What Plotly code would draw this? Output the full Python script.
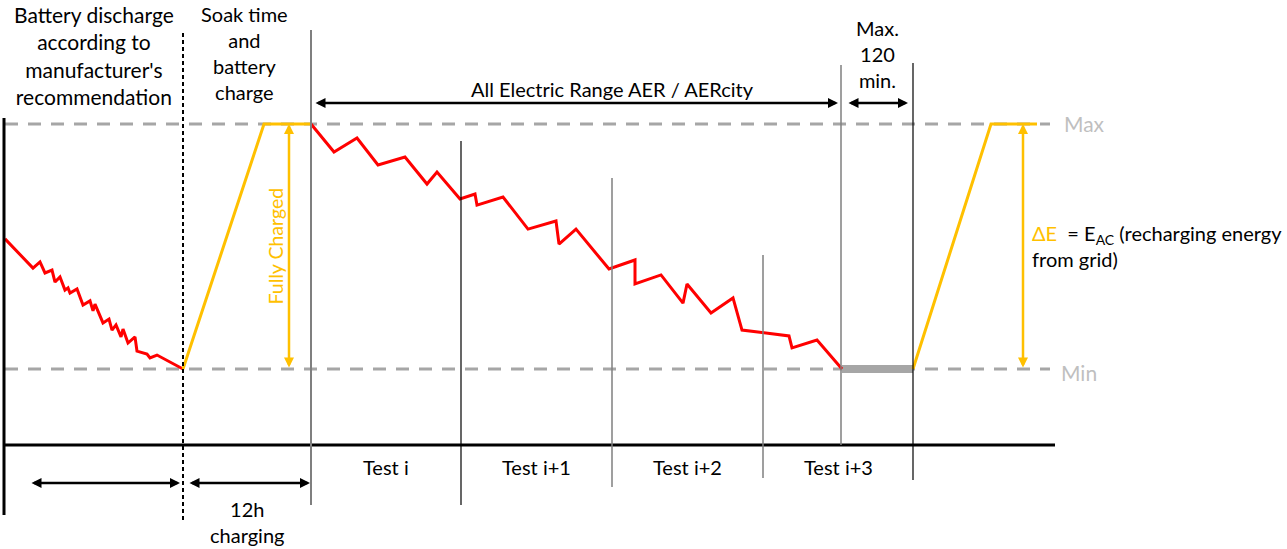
import plotly.graph_objects as go

# ---- data: time in diagram units, state of charge in % (0 = Min, 100 = Max) ----
pre_t = [5, 33, 40, 45, 52, 55, 60, 65, 68, 70, 77, 83, 90, 93, 95, 103, 109, 112,
         116, 121, 123, 128, 135, 137, 147, 150, 157, 183]
pre_soc = [53.1, 41.2, 43.7, 39.2, 40.4, 35.5, 37.6, 32.2, 33.1, 31.0, 32.7, 26.1,
           27.8, 23.7, 26.5, 18.8, 20.4, 15.9, 18.0, 13.1, 16.3, 10.6, 13.1, 7.3,
           6.1, 4.5, 5.7, 0]

charge1_t = [183, 264, 311]
charge1_soc = [0, 100, 100]

aer_t = [311, 334, 357, 378, 405, 427, 437, 460, 475, 477, 503, 528, 556, 559, 576,
         609, 635, 635, 661, 683, 687, 711, 733, 742, 789, 792, 817, 842]
aer_soc = [100, 88.6, 94.3, 83.3, 86.5, 75.5, 80.4, 69.4, 71.4, 66.9, 70.2, 57.1,
           60.4, 51.0, 57.1, 40.8, 44.5, 34.7, 38.4, 26.9, 34.7, 22.9, 29.0, 15.9,
           13.5, 8.6, 11.8, 0]

idle_t = [842, 913]
idle_soc = [0, 0]

charge2_t = [913, 991, 1037]
charge2_soc = [0, 100, 100]

level_names = ["Max", "Min"]
level_soc = [100, 0]
level_span = [5, 1050]

test_labels = ["Test i", "Test i+1", "Test i+2", "Test i+3"]
test_bounds = [311, 461, 612, 763, 913]

# ---- layout constants ----
W, H = 1287, 549
Y_MIN_PX, Y_MAX_PX = 369, 124          # pixel rows of Min / Max
SCALE = (Y_MIN_PX - Y_MAX_PX) / 100.0
Y_RANGE = [(Y_MIN_PX - H) / SCALE, Y_MIN_PX / SCALE]

RED = "#FF0000"
ORANGE = "#FFC000"
DASH_GRAY = "#A6A6A6"
LINE_GRAY = "#7F7F7F"
LABEL_GRAY = "#BFBFBF"
FONT = "Lato"


def py(p):
    return 1 - p / H


fig = go.Figure()

# Max / Min reference levels
for soc in level_soc:
    fig.add_trace(go.Scatter(x=level_span, y=[soc, soc], mode="lines",
                             line=dict(color=DASH_GRAY, width=3, dash="13px,10px"),
                             hoverinfo="skip"))

# idle period at Min
fig.add_trace(go.Scatter(x=idle_t, y=idle_soc, mode="lines",
                         line=dict(color=DASH_GRAY, width=8), hoverinfo="skip"))

# discharge curves
fig.add_trace(go.Scatter(x=pre_t, y=pre_soc, mode="lines",
                         line=dict(color=RED, width=3), hoverinfo="skip"))
fig.add_trace(go.Scatter(x=aer_t, y=aer_soc, mode="lines",
                         line=dict(color=RED, width=3), hoverinfo="skip"))

# charging curves
for t, s in [(charge1_t, charge1_soc), (charge2_t, charge2_soc)]:
    fig.add_trace(go.Scatter(x=t, y=s, mode="lines",
                             line=dict(color=ORANGE, width=3), hoverinfo="skip"))

shapes = []
# axes of the diagram
shapes.append(dict(type="line", xref="x", yref="paper", x0=4, x1=4,
                   y0=py(118), y1=py(515), line=dict(color="black", width=3)))
shapes.append(dict(type="line", xref="x", yref="paper", x0=4, x1=1055,
                   y0=py(445), y1=py(445), line=dict(color="black", width=3)))
# end of pre-conditioning discharge
shapes.append(dict(type="line", xref="x", yref="paper", x0=183, x1=183,
                   y0=py(33), y1=py(520),
                   line=dict(color="black", width=2, dash="4px,3px")))
# phase / test boundaries: (x, top, bottom, colour, width)
bounds = [
    (311, 30, 505, LINE_GRAY, 2),
    (461, 141, 505, "black", 1.2),
    (612, 178, 487, LINE_GRAY, 1.5),
    (763, 255, 478, LINE_GRAY, 1.5),
    (841, 65, 445, LINE_GRAY, 1.5),
    (913, 63, 480, "black", 1.2),
]
for x, top, bot, col, w in bounds:
    shapes.append(dict(type="line", xref="x", yref="paper", x0=x, x1=x,
                       y0=py(top), y1=py(bot), line=dict(color=col, width=w),
                       layer="above"))

annotations = []


def text(x, y, s, size=20, color="black", xanchor="center", **kw):
    annotations.append(dict(x=x, y=py(y), xref="x", yref="paper", text=s,
                            showarrow=False, xanchor=xanchor, yanchor="middle",
                            font=dict(family=FONT, size=size, color=color), **kw))


def harrow(x0, x1, y):
    annotations.append(dict(x=x1, y=py(y), xref="x", yref="paper",
                            ax=-(x1 - x0), ay=0, axref="pixel", ayref="pixel",
                            text="", showarrow=True, arrowside="end+start",
                            arrowhead=2, arrowsize=0.8, arrowwidth=2.5,
                            arrowcolor="black", standoff=0, startstandoff=0))


def varrow(x, color):
    annotations.append(dict(x=x, y=level_soc[0], xref="x", yref="y",
                            ax=x, ay=level_soc[1], axref="x", ayref="y",
                            text="", showarrow=True, arrowside="end+start",
                            arrowhead=2, arrowsize=0.8, arrowwidth=2.5,
                            arrowcolor=color, standoff=0, startstandoff=0))


text(94, 56, "Battery discharge<br>according to<br>manufacturer's<br>recommendation",
     size=21)
text(244, 53, "Soak time<br>and<br>battery<br>charge")
text(877, 54, "Max.<br>120<br>min.")
text(612, 89, "All Electric Range AER / AERcity")
text(247, 522, "12h<br>charging")
for i, lab in enumerate(test_labels):
    text((test_bounds[i] + test_bounds[i + 1]) / 2, 467, lab)

text(1062, 124, level_names[0], size=21, color=LABEL_GRAY, xanchor="left")
text(1059, 372, level_names[1], size=21, color=LABEL_GRAY, xanchor="left")

text(1030, 246,
     f"<span style='color:{ORANGE}'>ΔE</span>  = E<sub>AC</sub> (recharging energy<br>from grid)",
     xanchor="left", align="left")

# rotated label beside the first charge arrow
annotations.append(dict(x=275, y=50, xref="x", yref="y", text="Fully Charged",
                        textangle=-90, showarrow=False,
                        font=dict(family=FONT, size=19.5, color=ORANGE)))

harrow(314, 838, 103)
harrow(847, 908, 103)
harrow(30, 180, 483)
harrow(188, 310, 483)
varrow(289, ORANGE)
varrow(1023, ORANGE)

fig.update_layout(
    width=W, height=H, margin=dict(l=0, r=0, t=0, b=0),
    paper_bgcolor="white", plot_bgcolor="white", showlegend=False,
    xaxis=dict(range=[0, W], visible=False, fixedrange=True),
    yaxis=dict(range=Y_RANGE, visible=False, fixedrange=True),
    shapes=shapes, annotations=annotations,
)

fig.write_html("out.html")
